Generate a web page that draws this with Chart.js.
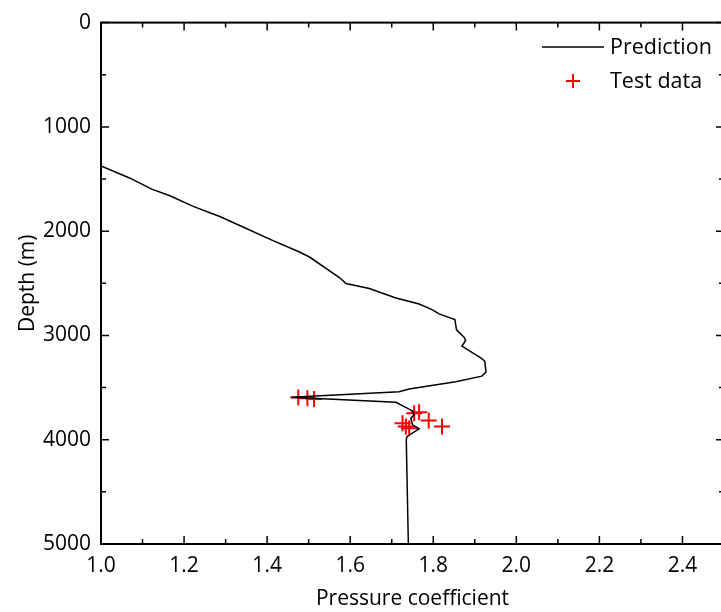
<!DOCTYPE html>
<html>
<head>
<meta charset="utf-8">
<script src="https://cdn.jsdelivr.net/npm/chart.js@4"></script>
<style>
  html, body { margin: 0; padding: 0; background: #fff; overflow: hidden; }
</style>
</head>
<body>
<canvas id="out" width="734" height="612"></canvas>
<script>
// prediction curve
const predX = [1.0, 1.07, 1.122, 1.166, 1.222, 1.286, 1.334, 1.41, 1.478, 1.502, 1.574, 1.59,
  1.646, 1.71, 1.766, 1.797, 1.814, 1.852, 1.856, 1.874, 1.878, 1.869, 1.917, 1.924, 1.927,
  1.917, 1.854, 1.742, 1.718, 1.458, 1.71, 1.75, 1.754, 1.746, 1.75, 1.766, 1.737, 1.735, 1.74];
const predDepth = [1374, 1492, 1597, 1660, 1762, 1860, 1946, 2083, 2200, 2248, 2445, 2502,
  2550, 2641, 2698, 2752, 2793, 2848, 2946, 3016, 3048, 3102, 3222, 3248, 3350,
  3390, 3445, 3514, 3540, 3593, 3641, 3724, 3762, 3793, 3857, 3895, 3968, 4000, 5000];

// test data
const testX = [1.475, 1.497, 1.513, 1.754, 1.766, 1.789, 1.821, 1.726, 1.734, 1.742];
const testDepth = [3594, 3603, 3610, 3746, 3736, 3816, 3873, 3841, 3873, 3889];

const xMin = 1.0, xMax = 2.5, xStep = 0.1;
const yMin = 0, yMax = 5000, yStep = 500;
const seriesNames = ["Prediction", "Test data"];

const FONT = "'Open Sans', 'Noto Sans', sans-serif";

function toPoints(xs, ys) {
  const result = [];
  for (let i = 0; i < xs.length; i++) {
    result.push({ x: xs[i], y: ys[i] });
  }
  return result;
}

// inward ticks on all four sides, long for labelled ones
const innerTicks = {
  id: "innerTicks",
  afterDraw(chart) {
    const ctx = chart.ctx;
    const a = chart.chartArea;
    const xs = chart.scales.x;
    const ys = chart.scales.y;
    ctx.save();
    ctx.strokeStyle = "#000";
    ctx.lineWidth = 1.5;
    ctx.beginPath();
    xs.ticks.forEach(function(t) {
      const v = Math.round(t.value * 10);
      const len = v % 2 === 0 ? 8 : 5;
      const px = xs.getPixelForValue(t.value);
      ctx.moveTo(px, a.bottom); ctx.lineTo(px, a.bottom - len);
      ctx.moveTo(px, a.top); ctx.lineTo(px, a.top + len);
    });
    ys.ticks.forEach(function(t) {
      const len = t.value % 1000 === 0 ? 8 : 5;
      const py = ys.getPixelForValue(t.value);
      ctx.moveTo(a.left, py); ctx.lineTo(a.left + len, py);
      ctx.moveTo(a.right, py); ctx.lineTo(a.right - len, py);
    });
    ctx.stroke();
    // frame
    ctx.lineWidth = 2;
    ctx.strokeRect(a.left, a.top, a.right - a.left, a.bottom - a.top);
    ctx.restore();
  }
};

// legend in the top right corner
const cornerLegend = {
  id: "cornerLegend",
  afterDraw(chart) {
    const ctx = chart.ctx;
    const ds = chart.data.datasets;
    ctx.save();
    ctx.font = "21.5px " + FONT;
    ctx.textBaseline = "middle";
    ctx.fillStyle = "#000";
    ctx.strokeStyle = ds[0].borderColor;
    ctx.lineWidth = 1.5;
    ctx.beginPath();
    ctx.moveTo(542, 47); ctx.lineTo(604, 47);
    ctx.stroke();
    ctx.fillText(ds[0].label, 610, 48);
    ctx.strokeStyle = ds[1].borderColor;
    ctx.lineWidth = 2;
    ctx.beginPath();
    ctx.moveTo(566, 81); ctx.lineTo(580, 81);
    ctx.moveTo(573, 74); ctx.lineTo(573, 88);
    ctx.stroke();
    ctx.fillText(ds[1].label, 610, 82);
    ctx.restore();
  }
};

const canvasCtx = document.getElementById("out").getContext("2d");
const chartConfig = {
  type: "scatter",
  data: {
    datasets: [
      {
        label: seriesNames[0],
        data: toPoints(predX, predDepth),
        showLine: true,
        borderColor: "#000",
        borderWidth: 1.5,
        pointRadius: 0,
        tension: 0
      },
      {
        label: seriesNames[1],
        data: toPoints(testX, testDepth),
        showLine: false,
        pointStyle: "cross",
        pointRadius: 8,
        borderColor: "#ff0000",
        backgroundColor: "#ff0000",
        borderWidth: 2
      }
    ]
  },
  plugins: [innerTicks, cornerLegend],
  options: {
    responsive: false,
    animation: false,
    layout: { padding: { top: 20, right: 2, left: 0, bottom: 0 } },
    plugins: { legend: { display: false }, tooltip: { enabled: false } },
    scales: {
      x: {
        type: "linear",
        min: xMin,
        max: xMax,
        grid: { display: false, drawTicks: false },
        border: { display: false },
        ticks: {
          stepSize: xStep,
          autoSkip: false,
          maxRotation: 0,
          padding: 9,
          color: "#000",
          font: { family: FONT, size: 21 },
          callback: function(v) {
            const k = Math.round(v * 10);
            if (k % 2 !== 0 || k >= 25) return "";
            return (k / 10).toFixed(1);
          }
        },
        title: {
          display: true,
          text: "Pressure coefficient",
          color: "#000",
          font: { family: FONT, size: 21 },
          padding: { top: 0, bottom: 0 }
        },
        afterFit: function(scale) { scale.height = 68; }
      },
      y: {
        type: "linear",
        reverse: true,
        min: yMin,
        max: yMax,
        grid: { display: false, drawTicks: false },
        border: { display: false },
        ticks: {
          stepSize: yStep,
          autoSkip: false,
          padding: 10,
          color: "#000",
          font: { family: FONT, size: 21 },
          callback: function(v) { return v % 1000 === 0 ? String(v) : ""; }
        },
        title: {
          display: true,
          text: "Depth (m)",
          color: "#000",
          font: { family: FONT, size: 21 },
          padding: { top: 15, bottom: 0 }
        },
        afterFit: function(scale) { scale.width = 101; }
      }
    }
  }
};

window.chart = new Chart(canvasCtx, chartConfig);
</script>
</body>
</html>
